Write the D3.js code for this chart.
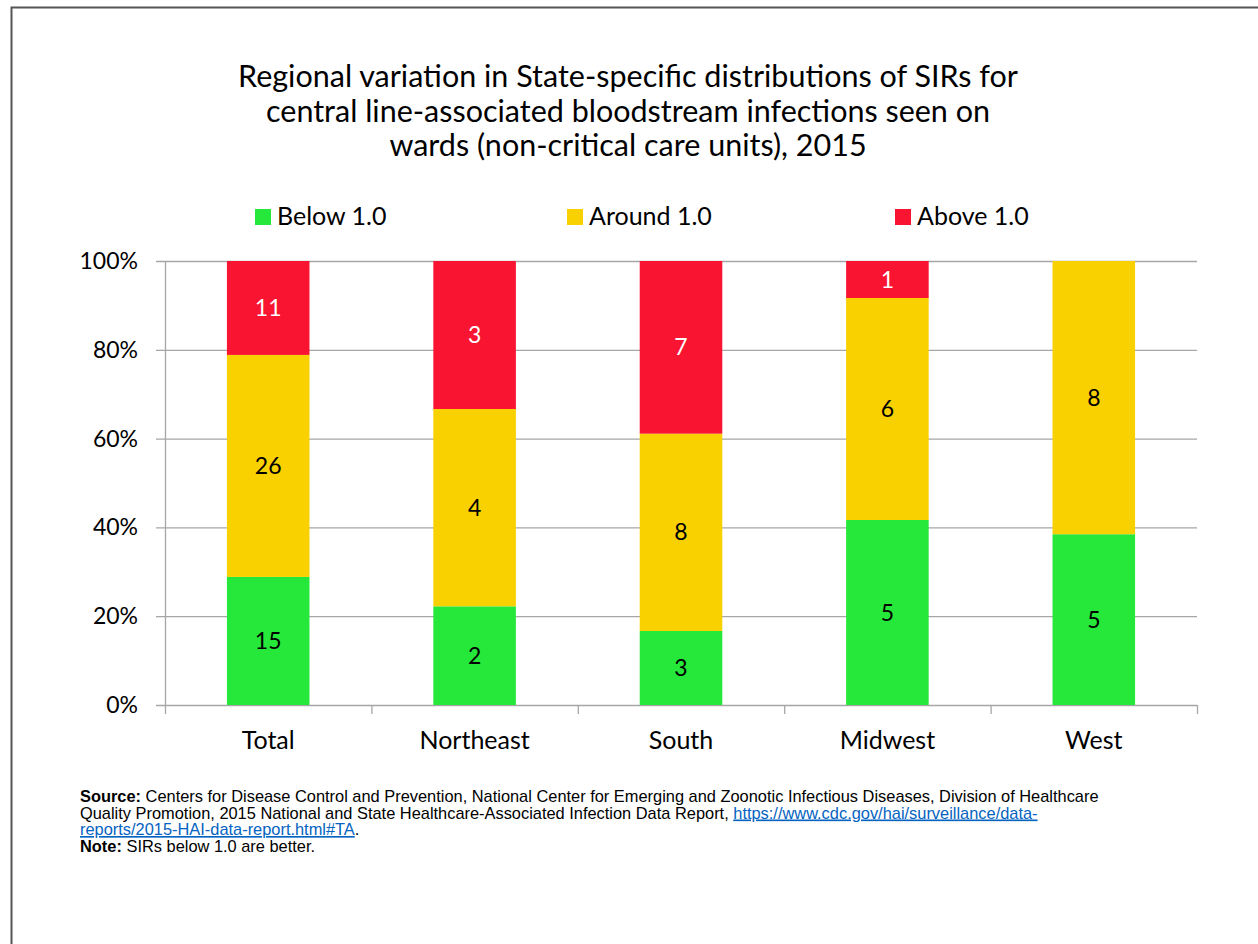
<!DOCTYPE html>
<html>
<head>
<meta charset="utf-8">
<script src="https://cdn.jsdelivr.net/npm/d3@7"></script>
<style>
  body { margin: 0; background: #fff; }
  svg { display: block; }
</style>
</head>
<body>
<div id="chart"></div>
<script>
const W = 1258, H = 944;

// data (number of states per group)
const regions = ["Total", "Northeast", "South", "Midwest", "West"];
const below = [15, 2, 3, 5, 5];
const around = [26, 4, 8, 6, 8];
const above = [11, 3, 7, 1, 0];
const seriesNames = ["Below 1.0", "Around 1.0", "Above 1.0"];
const seriesColors = ["#26E83A", "#F9D000", "#F91431"];
const yTicks = [0, 0.2, 0.4, 0.6, 0.8, 1.0];

const margins = { top: 261, left: 165, right: 61, bottom: 239 };
const innerW = W - margins.left - margins.right;
const innerH = H - margins.top - margins.bottom;
const font = "Lato, 'Open Sans', sans-serif";

const rows = regions.map((r, i) => {
  const tot = below[i] + around[i] + above[i];
  return { region: r, b: below[i] / tot, a: around[i] / tot, o: above[i] / tot,
           counts: [below[i], around[i], above[i]] };
});

const svg = d3.select("#chart").append("svg")
  .attr("width", W).attr("height", H);

// slide frame
svg.append("path")
  .attr("d", `M11.5,${H} L11.5,7.5 L${W},7.5`)
  .attr("fill", "none").attr("stroke", "#555").attr("stroke-width", 2);

// title
const title = ["Regional variation in State-specific distributions of SIRs for",
  "central line-associated bloodstream infections seen on",
  "wards (non-critical care units), 2015"];
svg.append("g")
  .style("font-family", font)
  .style("font-size", "30.5px")
  .selectAll("text").data(title).join("text")
  .attr("text-anchor", "middle")
  .attr("x", 628).attr("y", (d, i) => 87 + i * 34.5)
  .text(d => d);

const xScale = d3.scaleBand().domain(regions).range([0, innerW]).paddingInner(0.6).paddingOuter(0.3);
const band = d3.scaleBand().domain(regions).range([0, innerW]);
const yScale = d3.scaleLinear().domain([0, 1]).range([innerH, 0]);

const g = svg.append("g").attr("transform", `translate(${margins.left},${margins.top})`);

// gridlines
g.append("g").selectAll("line").data(yTicks).join("line")
  .attr("x1", -9).attr("x2", innerW)
  .attr("y1", d => yScale(d) + 0.5).attr("y2", d => yScale(d) + 0.5)
  .attr("stroke", "#a6a6a6").attr("stroke-width", 1.3);

// y axis line
g.append("line").attr("x1", 0.5).attr("x2", 0.5).attr("y1", 0).attr("y2", innerH)
  .attr("stroke", "#a6a6a6").attr("stroke-width", 1.3);

// x category ticks
g.append("g").selectAll("line").data(regions.map(r => band(r)).concat([innerW])).join("line")
  .attr("x1", d => d + 0.5).attr("x2", d => d + 0.5)
  .attr("y1", innerH).attr("y2", innerH + 9)
  .attr("stroke", "#a6a6a6").attr("stroke-width", 1.3);

// y tick labels
g.append("g").selectAll("text").data(yTicks).join("text")
  .attr("x", -27).attr("y", d => yScale(d) + 8)
  .attr("text-anchor", "end")
  .style("font-family", font)
  .style("font-size", "23px")
  .text(d => d3.format(".0%")(d));

// x labels
g.append("g").selectAll("text").data(regions).join("text")
  .attr("x", d => band(d) + band.bandwidth() / 2)
  .attr("y", innerH + 44)
  .attr("text-anchor", "middle")
  .style("font-family", font)
  .style("font-size", "25px")
  .text(d => d);

// stacked bars
const stack = d3.stack().keys(["b", "a", "o"]);
const layers = stack(rows);
layers.forEach((layer, k) => {
  const lg = g.append("g");
  lg.selectAll("rect").data(layer).join("rect")
    .attr("x", d => xScale(d.data.region))
    .attr("width", xScale.bandwidth())
    .attr("y", d => yScale(d[1]))
    .attr("height", d => yScale(d[0]) - yScale(d[1]))
    .attr("fill", seriesColors[k]);
  lg.selectAll("text").data(layer.filter(d => d.data.counts[k] > 0)).join("text")
    .attr("x", d => xScale(d.data.region) + xScale.bandwidth() / 2)
    .attr("y", d => (yScale(d[0]) + yScale(d[1])) / 2 + 8)
    .attr("text-anchor", "middle")
    .style("font-family", font)
    .style("font-size", "23px")
    .attr("fill", k === 2 ? "#fff" : "#000")
    .text(d => d.data.counts[k]);
});

// legend
const legendX = [255, 567, 895];
const leg = svg.append("g").selectAll("g").data(seriesNames).join("g")
  .attr("transform", (d, i) => `translate(${legendX[i]},209)`);
leg.append("rect").attr("width", 16).attr("height", 16).attr("fill", (d, i) => seriesColors[i]);
leg.append("text").attr("x", 22).attr("y", 16)
  .style("font-family", font)
  .style("font-size", "25px")
  .text(d => d);

// source note
const note = svg.append("g")
  .style("font-family", "'Liberation Sans', Arial, sans-serif")
  .style("font-size", "16.4px");
const lines = [802, 818.5, 835, 851.5];
const t1 = note.append("text").attr("x", 80).attr("y", lines[0]);
t1.append("tspan").style("font-weight", "bold").text("Source:");
t1.append("tspan").text(" Centers for Disease Control and Prevention, National Center for Emerging and Zoonotic Infectious Diseases, Division of Healthcare");
const t2 = note.append("text").attr("x", 80).attr("y", lines[1]);
t2.append("tspan").text("Quality Promotion, 2015 National and State Healthcare-Associated Infection Data Report, ");
t2.append("tspan").attr("fill", "#0563C1").style("text-decoration", "underline").text("https://www.cdc.gov/hai/surveillance/data-");
const t3 = note.append("text").attr("x", 80).attr("y", lines[2]);
t3.append("tspan").attr("fill", "#0563C1").style("text-decoration", "underline").text("reports/2015-HAI-data-report.html#TA");
t3.append("tspan").text(".");
const t4 = note.append("text").attr("x", 80).attr("y", lines[3]);
t4.append("tspan").style("font-weight", "bold").text("Note:");
t4.append("tspan").text(" SIRs below 1.0 are better.");
</script>
</body>
</html>
